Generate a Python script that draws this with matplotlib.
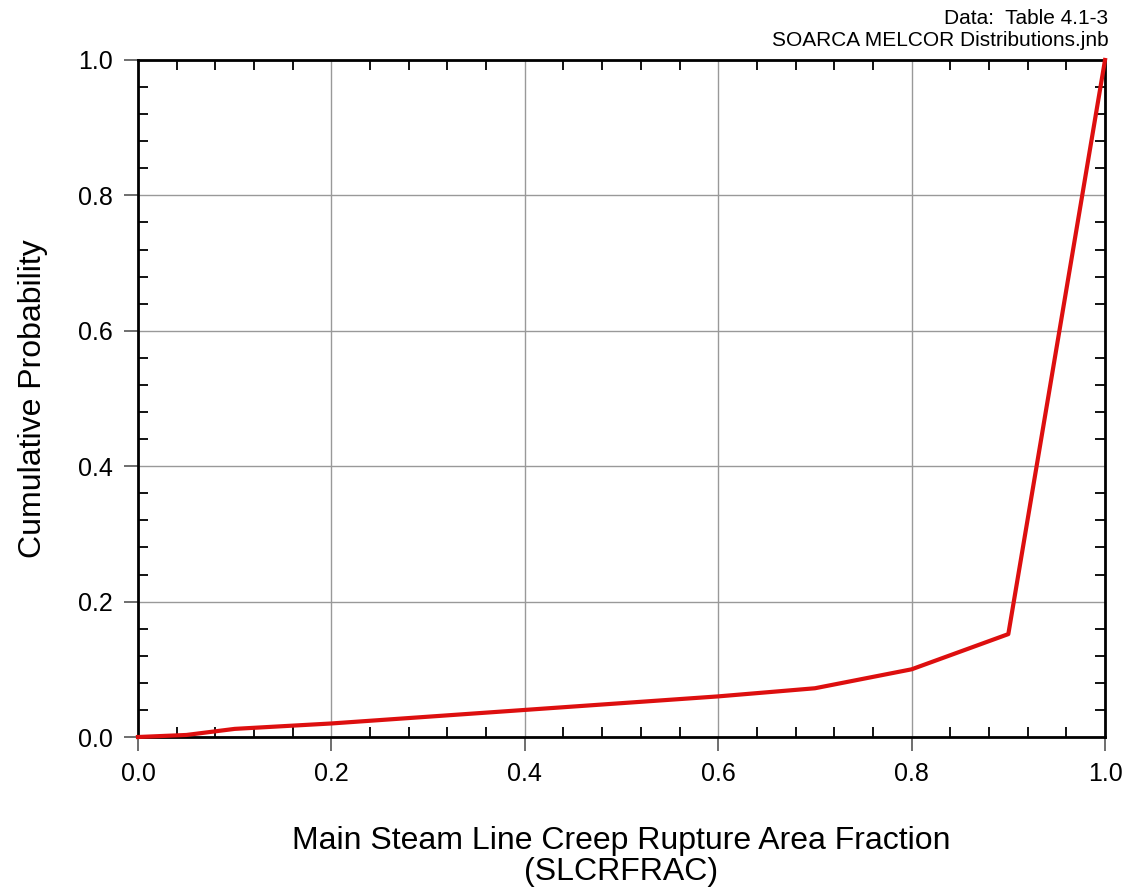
import numpy as np
import matplotlib.pyplot as plt
from matplotlib.ticker import MultipleLocator

plt.rcParams['font.family'] = ['Liberation Sans', 'DejaVu Sans']

# Cumulative distribution
area_fraction = [0.0, 0.05, 0.1, 0.2, 0.3, 0.4, 0.5, 0.6, 0.7, 0.8, 0.9, 1.0]
cum_prob = [0.0, 0.003, 0.012, 0.02, 0.03, 0.04, 0.05, 0.06, 0.072, 0.10, 0.152, 1.0]

fig = plt.figure(figsize=(11.3, 8.9), dpi=100)
ax = fig.add_axes([0.1221, 0.1719, 0.8558, 0.7607])

# Grid first so the curve sits on top
ax.grid(True, which='major', color='#999999', linewidth=1.0)
ax.set_axisbelow(True)

ax.plot(area_fraction, cum_prob, color='#dd0f0f', linewidth=3.0, clip_on=False, zorder=3)

ax.set_xlim(0, 1)
ax.set_ylim(0, 1)
ax.xaxis.set_major_locator(MultipleLocator(0.2))
ax.yaxis.set_major_locator(MultipleLocator(0.2))
ax.xaxis.set_minor_locator(MultipleLocator(0.04))
ax.yaxis.set_minor_locator(MultipleLocator(0.04))
ax.xaxis.set_major_formatter(lambda v, p: f'{v:.1f}')
ax.yaxis.set_major_formatter(lambda v, p: f'{v:.1f}')

# Major ticks outward (bottom/left), minor ticks inward all around
ax.tick_params(which='major', direction='out', length=10, width=1.2, color='#555555',
               labelsize=18, pad=8, top=False, right=False)
ax.tick_params(which='minor', direction='in', length=7, width=1.3, color='black',
               top=True, right=True)

for s in ax.spines.values():
    s.set_linewidth(2.0)
    s.set_color('black')

ax.set_xlabel('Main Steam Line Creep Rupture Area Fraction\n(SLCRFRAC)',
              fontsize=23, labelpad=29, linespacing=1.05)
ax.set_ylabel('Cumulative Probability', fontsize=23, labelpad=22)

fig.text(0.981, 0.979, 'Data:  Table 4.1-3', ha='right', va='center', fontsize=15)
fig.text(0.981, 0.954, 'SOARCA MELCOR Distributions.jnb', ha='right', va='center', fontsize=15)

fig.savefig('out.png', dpi=100)
